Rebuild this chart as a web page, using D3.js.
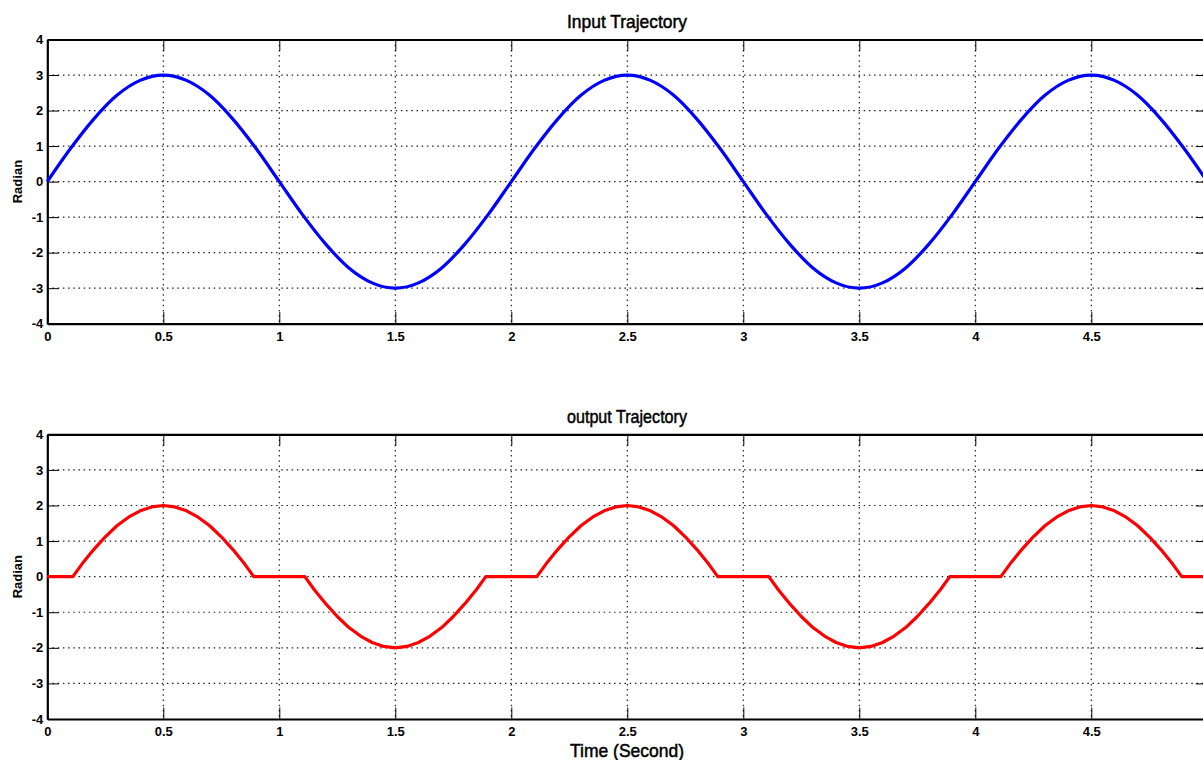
<!DOCTYPE html>
<html>
<head>
  <meta charset="utf-8">
  <title>Trajectory</title>
  <script src="https://cdn.jsdelivr.net/npm/d3@7"></script>
  <style>
    body { margin: 0; background: #fff; }
    svg { display: block; }
  </style>
</head>
<body>
<script>
  // 1. data
  var inTime = [0, 0.1, 0.2, 0.3, 0.4, 0.5, 0.6, 0.7, 0.8, 0.9,
                1, 1.1, 1.2, 1.3, 1.4, 1.5, 1.6, 1.7, 1.8, 1.9,
                2, 2.1, 2.2, 2.3, 2.4, 2.5, 2.6, 2.7, 2.8, 2.9,
                3, 3.1, 3.2, 3.3, 3.4, 3.5, 3.6, 3.7, 3.8, 3.9,
                4, 4.1, 4.2, 4.3, 4.4, 4.5, 4.6, 4.7, 4.8, 4.9, 5];
  var inValue = [0, 0.93, 1.76, 2.43, 2.85, 3, 2.85, 2.43, 1.76, 0.93,
                 0, -0.93, -1.76, -2.43, -2.85, -3, -2.85, -2.43, -1.76, -0.93,
                 0, 0.93, 1.76, 2.43, 2.85, 3, 2.85, 2.43, 1.76, 0.93,
                 0, -0.93, -1.76, -2.43, -2.85, -3, -2.85, -2.43, -1.76, -0.93,
                 0, 0.93, 1.76, 2.43, 2.85, 3, 2.85, 2.43, 1.76, 0.93, 0];

  var outTime = [0, 0.11, 0.15, 0.2, 0.25, 0.3, 0.35, 0.4, 0.45, 0.5, 0.55, 0.6, 0.65, 0.7, 0.75, 0.8, 0.85, 0.89,
                 1.11, 1.15, 1.2, 1.25, 1.3, 1.35, 1.4, 1.45, 1.5, 1.55, 1.6, 1.65, 1.7, 1.75, 1.8, 1.85, 1.89,
                 2.11, 2.15, 2.2, 2.25, 2.3, 2.35, 2.4, 2.45, 2.5, 2.55, 2.6, 2.65, 2.7, 2.75, 2.8, 2.85, 2.89,
                 3.11, 3.15, 3.2, 3.25, 3.3, 3.35, 3.4, 3.45, 3.5, 3.55, 3.6, 3.65, 3.7, 3.75, 3.8, 3.85, 3.89,
                 4.11, 4.15, 4.2, 4.25, 4.3, 4.35, 4.4, 4.45, 4.5, 4.55, 4.6, 4.65, 4.7, 4.75, 4.8, 4.85, 4.89, 5];
  var outValue = [0, 0, 0.36, 0.76, 1.12, 1.43, 1.67, 1.85, 1.96, 2, 1.96, 1.85, 1.67, 1.43, 1.12, 0.76, 0.36, 0,
                  0, -0.36, -0.76, -1.12, -1.43, -1.67, -1.85, -1.96, -2, -1.96, -1.85, -1.67, -1.43, -1.12, -0.76, -0.36, 0,
                  0, 0.36, 0.76, 1.12, 1.43, 1.67, 1.85, 1.96, 2, 1.96, 1.85, 1.67, 1.43, 1.12, 0.76, 0.36, 0,
                  0, -0.36, -0.76, -1.12, -1.43, -1.67, -1.85, -1.96, -2, -1.96, -1.85, -1.67, -1.43, -1.12, -0.76, -0.36, 0,
                  0, 0.36, 0.76, 1.12, 1.43, 1.67, 1.85, 1.96, 2, 1.96, 1.85, 1.67, 1.43, 1.12, 0.76, 0.36, 0, 0];

  var xTicks = [0, 0.5, 1, 1.5, 2, 2.5, 3, 3.5, 4, 4.5, 5];
  var xTickLabels = ["0", "0.5", "1", "1.5", "2", "2.5", "3", "3.5", "4", "4.5", ""];
  var yTicks = [-4, -3, -2, -1, 0, 1, 2, 3, 4];
  var yTickLabels = ["-4", "-3", "-2", "-1", "0", "1", "2", "3", "4"];

  var width = 1203;
  var height = 760;
  var font = "Arial, 'Liberation Sans', Helvetica, sans-serif";
  var tickLen = 11.6;

  // 2. svg
  var svg = d3.select("body").append("svg").attr("width", width).attr("height", height);

  var xScale = d3.scaleLinear().domain([0, 5]).range([47.3, 1207.3]);

  // 3. one panel
  function drawPanel(top, bottom, times, values, color, title, curve) {
    var yScale = d3.scaleLinear().domain([-4, 4]).range([bottom, top]);
    var g = svg.append("g");

    // grid
    g.selectAll(".gx").data(xTicks.slice(1, -1)).enter().append("line")
      .attr("x1", function(d) { return xScale(d); })
      .attr("x2", function(d) { return xScale(d); })
      .attr("y1", top).attr("y2", bottom)
      .attr("stroke", "#222").attr("stroke-width", 1.2)
      .attr("stroke-dasharray", "1.5,3.7");
    g.selectAll(".gy").data(yTicks.slice(1, -1)).enter().append("line")
      .attr("x1", xScale(0)).attr("x2", xScale(5))
      .attr("y1", function(d) { return yScale(d); })
      .attr("y2", function(d) { return yScale(d); })
      .attr("stroke", "#222").attr("stroke-width", 1.2)
      .attr("stroke-dasharray", "1.5,3.7");

    // axes, ticks inward
    var ax = [
      g.append("g").attr("transform", "translate(0," + bottom + ")")
        .call(d3.axisBottom(xScale).tickValues(xTicks).tickSize(-tickLen).tickSizeOuter(0).tickPadding(8)
          .tickFormat(function(d, i) { return xTickLabels[i]; })),
      g.append("g").attr("transform", "translate(0," + top + ")")
        .call(d3.axisTop(xScale).tickValues(xTicks).tickSize(-tickLen).tickSizeOuter(0).tickFormat("")),
      g.append("g").attr("transform", "translate(" + xScale(0) + ",0)")
        .call(d3.axisLeft(yScale).tickValues(yTicks).tickSize(-tickLen).tickSizeOuter(0).tickPadding(4)
          .tickFormat(function(d, i) { return yTickLabels[i]; })),
      g.append("g").attr("transform", "translate(" + xScale(5) + ",0)")
        .call(d3.axisRight(yScale).tickValues(yTicks).tickSize(-tickLen).tickSizeOuter(0).tickFormat(""))
    ];
    ax.forEach(function(a) {
      a.attr("font-family", font).attr("font-size", 13).attr("font-weight", "bold");
      a.select(".domain").attr("stroke", "#000").attr("stroke-width", 2.2);
      a.selectAll(".tick line").attr("stroke", "#000").attr("stroke-width", 1);
      a.selectAll(".tick text").attr("fill", "#000");
    });

    // line
    g.append("path")
      .datum(times.map(function(t, i) { return [t, values[i]]; }))
      .attr("fill", "none")
      .attr("stroke", color)
      .attr("stroke-width", 3.2)
      .attr("stroke-linejoin", "round")
      .attr("d", d3.line()
        .x(function(d) { return xScale(d[0]); })
        .y(function(d) { return yScale(d[1]); })
        .curve(curve));

    // title
    g.append("text")
      .attr("x", 627).attr("y", top - 11.5)
      .attr("text-anchor", "middle")
      .attr("font-family", font).attr("font-size", 19)
      .attr("stroke", "#000").attr("stroke-width", 0.5)
      .attr("textLength", 120).attr("lengthAdjust", "spacingAndGlyphs")
      .text(title);

    // y label
    g.append("text")
      .attr("transform", "translate(22," + yScale(0) + ") rotate(-90)")
      .attr("text-anchor", "middle")
      .attr("font-family", font).attr("font-size", 13).attr("font-weight", "bold")
      .text("Radian");
  }

  drawPanel(39.5, 323.7, inTime, inValue, "#0000ff", "Input Trajectory", d3.curveMonotoneX);
  drawPanel(434.3, 719, outTime, outValue, "#ff0000", "output Trajectory", d3.curveLinear);

  // 4. x label
  svg.append("text")
    .attr("x", 627).attr("y", 756.5)
    .attr("text-anchor", "middle")
    .attr("font-family", font).attr("font-size", 19)
    .attr("stroke", "#000").attr("stroke-width", 0.5)
    .attr("textLength", 114).attr("lengthAdjust", "spacingAndGlyphs")
    .text("Time (Second)");
</script>
</body>
</html>
